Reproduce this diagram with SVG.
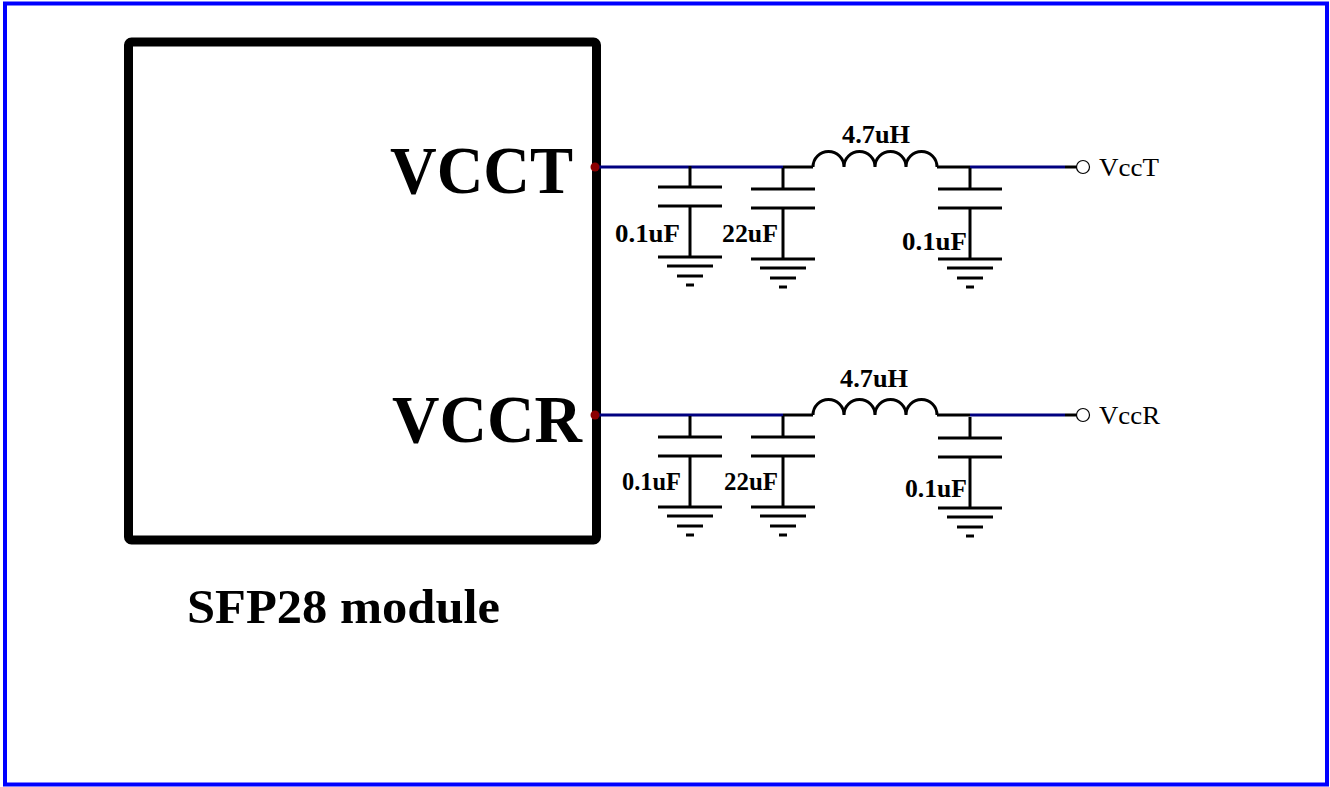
<svg xmlns="http://www.w3.org/2000/svg" width="1330" height="787" viewBox="0 0 1330 787">
<style>
.w{stroke:#000;stroke-width:3;fill:none}
.b{stroke:#000080;stroke-width:3;fill:none}
.lbl{font-family:"Liberation Serif",serif;font-weight:bold;font-size:25px;fill:#000}
.big{font-family:"Liberation Serif",serif;font-weight:bold;fill:#000}
.pin{font-family:"Liberation Serif",serif;font-size:25px;fill:#000}
</style>
<defs>
<g id="cap">
<line class="w" x1="0" y1="0" x2="0" y2="21"/>
<line class="w" x1="-32" y1="21" x2="32" y2="21"/>
<line class="w" x1="-32" y1="40" x2="32" y2="40"/>
<line class="w" x1="0" y1="40" x2="0" y2="91"/>
<line class="w" x1="-32" y1="91" x2="32" y2="91"/>
<line class="w" x1="-23" y1="100" x2="23" y2="100"/>
<line class="w" x1="-13" y1="110" x2="13" y2="110"/>
<line class="w" x1="-4" y1="119" x2="4" y2="119"/>
</g>
<path id="ind" class="w" d="M0,0 A15.5,15.5 0 0 1 31,0 A15.5,15.5 0 0 1 62,0 A15.5,15.5 0 0 1 93,0 A15.5,15.5 0 0 1 124,0"/>
</defs>
<rect x="5" y="3.5" width="1322" height="781" fill="#fff" stroke="#0000ff" stroke-width="4"/>
<g id="module">
<rect x="128.5" y="42" width="468" height="498" rx="3" fill="none" stroke="#000" stroke-width="9"/>
<text class="big" x="390" y="193" font-size="68" textLength="183" lengthAdjust="spacingAndGlyphs">VCCT</text>
<text class="big" x="392" y="442" font-size="68" textLength="190" lengthAdjust="spacingAndGlyphs">VCCR</text>
<text class="big" x="187" y="623" font-size="48" textLength="313" lengthAdjust="spacingAndGlyphs">SFP28 module</text>
</g>
<g id="connectors">
<line class="b" x1="596" y1="167" x2="783" y2="167"/>
<line class="w" x1="783" y1="167" x2="813" y2="167"/>
<line class="w" x1="937" y1="167" x2="970" y2="167"/>
<line class="b" x1="970" y1="167" x2="1065" y2="167"/>
<line class="w" x1="1065" y1="167" x2="1077" y2="167"/>
<line class="b" x1="596" y1="415" x2="783" y2="415"/>
<line class="w" x1="783" y1="415" x2="813" y2="415"/>
<line class="w" x1="937" y1="415" x2="970" y2="415"/>
<line class="b" x1="970" y1="415" x2="1065" y2="415"/>
<line class="w" x1="1065" y1="415" x2="1077" y2="415"/>
</g>
<g id="vcct-dot"><circle cx="595" cy="167" r="4.5" fill="#8b0000"/></g>
<g id="vccr-dot"><circle cx="595" cy="415" r="4.5" fill="#8b0000"/></g>
<g id="c1t"><use href="#cap" x="690" y="166"/><text class="lbl" x="615" y="242" textLength="65" lengthAdjust="spacingAndGlyphs">0.1uF</text></g>
<g id="c2t"><use href="#cap" x="783" y="168"/><text class="lbl" x="722" y="242" textLength="56" lengthAdjust="spacingAndGlyphs">22uF</text></g>
<g id="l1"><use href="#ind" x="813" y="167"/><text class="lbl" x="842" y="143" textLength="68" lengthAdjust="spacingAndGlyphs">4.7uH</text></g>
<g id="c3t"><use href="#cap" x="970" y="168"/><text class="lbl" x="902" y="250" textLength="65" lengthAdjust="spacingAndGlyphs">0.1uF</text></g>
<g id="vcct-pin"><circle cx="1083" cy="167" r="6.5" fill="#fff" stroke="#000" stroke-width="1.2"/><text class="pin" x="1099" y="176" textLength="60" lengthAdjust="spacingAndGlyphs">VccT</text></g>
<g id="c1r"><use href="#cap" x="690" y="416"/><text class="lbl" x="622" y="490" textLength="59" lengthAdjust="spacingAndGlyphs">0.1uF</text></g>
<g id="c2r"><use href="#cap" x="783" y="416"/><text class="lbl" x="724" y="490" textLength="54" lengthAdjust="spacingAndGlyphs">22uF</text></g>
<g id="l2"><use href="#ind" x="813" y="415"/><text class="lbl" x="840" y="387" textLength="68" lengthAdjust="spacingAndGlyphs">4.7uH</text></g>
<g id="c3r"><use href="#cap" x="970" y="417"/><text class="lbl" x="905" y="497" textLength="62" lengthAdjust="spacingAndGlyphs">0.1uF</text></g>
<g id="vccr-pin"><circle cx="1083" cy="415" r="6.5" fill="#fff" stroke="#000" stroke-width="1.2"/><text class="pin" x="1099" y="424" textLength="61" lengthAdjust="spacingAndGlyphs">VccR</text></g>
</svg>
